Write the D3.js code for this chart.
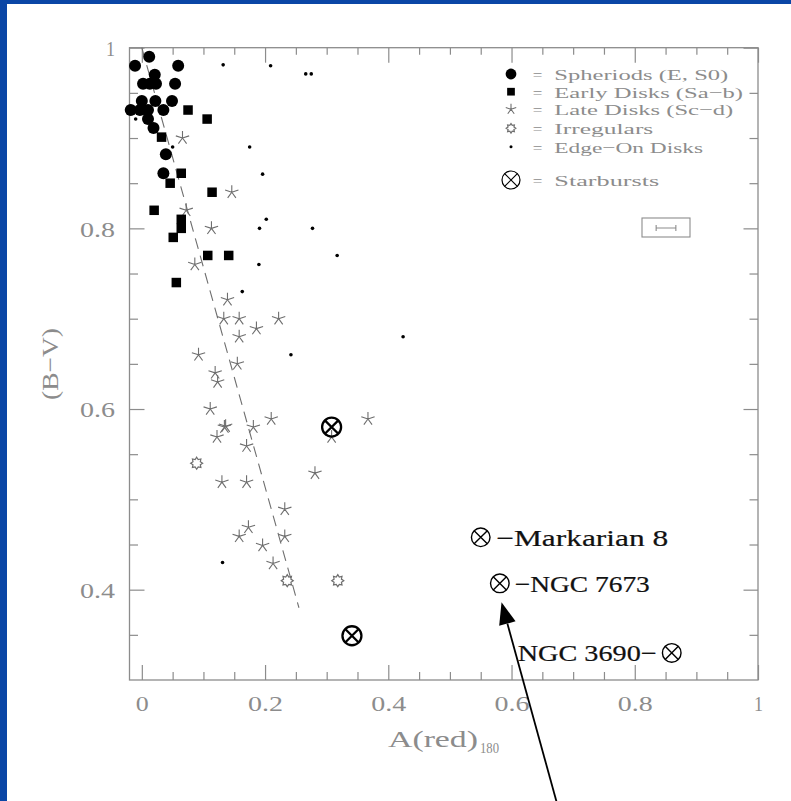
<!DOCTYPE html>
<html>
<head>
<meta charset="utf-8">
<script src="https://cdn.jsdelivr.net/npm/d3@7"></script>
<style>
  html, body { margin: 0; padding: 0; background: #ffffff; }
  svg { display: block; }
  text { font-family: "Liberation Serif", "DejaVu Serif", serif; }
</style>
</head>
<body>
<svg id="chart" width="791" height="801"></svg>
<script>
// ---- data: A(red)_180 (x) against (B-V) colour (y) ----
const spheroids = [
  [0.012, 0.990], [-0.011, 0.980], [0.059, 0.980], [0.021, 0.970],
  [0.002, 0.960], [0.013, 0.960], [0.023, 0.960], [0.054, 0.960],
  [0.000, 0.941], [0.022, 0.941], [0.049, 0.941],
  [-0.018, 0.931], [-0.003, 0.931], [0.010, 0.931], [0.035, 0.931],
  [0.010, 0.921], [0.019, 0.911], [0.039, 0.882], [0.035, 0.861]
];
const earlyDisks = [
  [0.075, 0.931], [0.106, 0.921], [0.032, 0.901], [0.064, 0.861],
  [0.046, 0.850], [0.114, 0.840], [0.020, 0.820], [0.064, 0.810],
  [0.064, 0.800], [0.051, 0.790], [0.107, 0.770], [0.141, 0.770],
  [0.056, 0.740]
];
const lateDisks = [
  [0.066, 0.900], [0.146, 0.840], [0.072, 0.820], [0.113, 0.800],
  [0.086, 0.760], [0.139, 0.721], [0.133, 0.700], [0.158, 0.700],
  [0.222, 0.700], [0.186, 0.689], [0.158, 0.680], [0.092, 0.660],
  [0.155, 0.650], [0.119, 0.640], [0.123, 0.630], [0.111, 0.600],
  [0.210, 0.589], [0.367, 0.589], [0.134, 0.580], [0.136, 0.581],
  [0.181, 0.580], [0.122, 0.569], [0.170, 0.559], [0.308, 0.569],
  [0.281, 0.529], [0.130, 0.519], [0.170, 0.519], [0.232, 0.489],
  [0.173, 0.469], [0.158, 0.459], [0.232, 0.459], [0.196, 0.449],
  [0.213, 0.429]
];
const irregulars = [[0.089, 0.540], [0.236, 0.410], [0.318, 0.410]];
const edgeOnDisks = [
  [0.132, 0.981], [0.209, 0.980], [0.266, 0.971], [0.275, 0.971],
  [-0.010, 0.921], [0.050, 0.890], [0.175, 0.890], [0.196, 0.860],
  [0.202, 0.810], [0.191, 0.800], [0.277, 0.800], [0.317, 0.770],
  [0.190, 0.760], [0.163, 0.730], [0.242, 0.660], [0.424, 0.680],
  [0.131, 0.430]
];
const starbursts = [[0.308, 0.580], [0.341, 0.349]];
const namedStarbursts = ["Markarian 8", "NGC 7673", "NGC 3690"];
const namedStarburstX = [0.550, 0.581, 0.860];
const namedStarburstY = [0.458, 0.407, 0.330];
const fitLine = [[0.0, 1.0], [0.255, 0.38]];
const typicalErrorX = 0.016;

const xMajorTicks = [0, 0.2, 0.4, 0.6, 0.8, 1];
const yMajorTicks = [0.4, 0.6, 0.8, 1];
const xTickLabels = ["0", "0.2", "0.4", "0.6", "0.8", "1"];
const yTickLabels = ["0.4", "0.6", "0.8", "1"];
const legendLabels = [
  "Spheriods (E, S0)", "Early Disks (Sa\u2212b)", "Late Disks (Sc\u2212d)",
  "Irregulars", "Edge\u2212On Disks", "Starbursts"
];

// ---- layout ----
const W = 791, H = 801;
const plot = { left: 129.5, right: 758, top: 47.7, bottom: 680 };
const grey = "#8c8c8c";
const starGrey = "#6e6e6e";

const svg = d3.select("#chart");
svg.append("rect").attr("width", W).attr("height", H).attr("fill", "#ffffff");
// blue slide frame
svg.append("rect").attr("x", 0).attr("y", 0).attr("width", W).attr("height", 4).attr("fill", "#0a46a6");
svg.append("rect").attr("x", 0).attr("y", 0).attr("width", 7).attr("height", H).attr("fill", "#0a46a6");

const x = d3.scaleLinear().domain([-0.02, 1]).range([plot.left, plot.right]);
const y = d3.scaleLinear().domain([0.3, 1]).range([plot.bottom, plot.top]);

const minorX = d3.range(0, 1.0001, 0.05).map(v => +v.toFixed(2)).filter(v => !xMajorTicks.includes(v));
const minorY = d3.range(0.35, 1.0001, 0.05).map(v => +v.toFixed(2)).filter(v => !yMajorTicks.includes(v));

// wide, thin plotter-style numerals
const labelWidth = s => s.length === 1 ? (s === "1" ? 9 : 13) : 35;
function styleAxis(g) {
  g.select(".domain").remove();
  g.selectAll(".tick line").attr("stroke", grey).attr("stroke-width", 1.2);
  g.selectAll(".tick text").attr("fill", grey).attr("font-size", 22)
    .attr("lengthAdjust", "spacingAndGlyphs")
    .attr("textLength", function () { return labelWidth(this.textContent); });
}

// bottom
svg.append("g").attr("transform", `translate(0,${plot.bottom})`)
  .call(d3.axisBottom(x).tickValues(xMajorTicks).tickSize(-15).tickPadding(15)
    .tickFormat((d, i) => xTickLabels[i]))
  .call(styleAxis);
svg.append("g").attr("transform", `translate(0,${plot.bottom})`)
  .call(d3.axisBottom(x).tickValues(minorX).tickSize(-8).tickFormat(""))
  .call(styleAxis);
// top
svg.append("g").attr("transform", `translate(0,${plot.top})`)
  .call(d3.axisTop(x).tickValues(xMajorTicks).tickSize(-15).tickFormat(""))
  .call(styleAxis);
svg.append("g").attr("transform", `translate(0,${plot.top})`)
  .call(d3.axisTop(x).tickValues(minorX).tickSize(-7).tickFormat(""))
  .call(styleAxis);
// left
svg.append("g").attr("transform", `translate(${plot.left},0)`)
  .call(d3.axisLeft(y).tickValues(yMajorTicks).tickSize(-15).tickPadding(14.5)
    .tickFormat((d, i) => yTickLabels[i]))
  .call(styleAxis)
  .call(g => g.selectAll(".tick text").attr("dy", "0.36em"));
svg.append("g").attr("transform", `translate(${plot.left},0)`)
  .call(d3.axisLeft(y).tickValues(minorY).tickSize(-8.5).tickFormat(""))
  .call(styleAxis);
// right
svg.append("g").attr("transform", `translate(${plot.right},0)`)
  .call(d3.axisRight(y).tickValues(yMajorTicks).tickSize(-14.5).tickFormat(""))
  .call(styleAxis);
svg.append("g").attr("transform", `translate(${plot.right},0)`)
  .call(d3.axisRight(y).tickValues(minorY).tickSize(-8.5).tickFormat(""))
  .call(styleAxis);

// frame
svg.append("rect")
  .attr("x", plot.left).attr("y", plot.top)
  .attr("width", plot.right - plot.left).attr("height", plot.bottom - plot.top)
  .attr("fill", "none").attr("stroke", grey).attr("stroke-width", 1.3);

// axis titles
svg.append("text")
  .attr("transform", "translate(58,364) rotate(-90)")
  .attr("text-anchor", "middle").attr("fill", grey).attr("font-size", 24)
  .attr("textLength", 72).attr("lengthAdjust", "spacingAndGlyphs")
  .text("(B\u2212V)");
const xt = svg.append("text").attr("x", 388).attr("y", 747).attr("fill", grey).attr("font-size", 24);
xt.append("tspan").attr("textLength", 90).attr("lengthAdjust", "spacingAndGlyphs").text("A(red)");
xt.append("tspan").attr("x", 480).attr("y", 753).attr("font-size", 14)
  .attr("textLength", 19).attr("lengthAdjust", "spacingAndGlyphs").text("180");

// symbol painters
function starPath(r) {
  let p = "";
  for (let k = 0; k < 5; k++) {
    const a = -Math.PI / 2 + k * 2 * Math.PI / 5;
    p += `M0,0L${(r * Math.cos(a)).toFixed(2)},${(r * Math.sin(a)).toFixed(2)}`;
  }
  return p;
}
function sunPath(ro, ri) {
  const pts = [];
  for (let k = 0; k < 16; k++) {
    const a = -Math.PI / 2 + k * Math.PI / 8;
    const r = k % 2 === 0 ? ro : ri;
    pts.push([r * Math.cos(a), r * Math.sin(a)]);
  }
  return "M" + pts.map(p => p[0].toFixed(2) + "," + p[1].toFixed(2)).join("L") + "Z";
}
function drawCircle(g, r) { g.append("circle").attr("r", r).attr("fill", "#000"); }
function drawSquare(g, s) { g.append("rect").attr("x", -s / 2).attr("y", -s / 2).attr("width", s).attr("height", s).attr("fill", "#000"); }
function drawStar(g, r) { g.append("path").attr("d", starPath(r)).attr("stroke", starGrey).attr("stroke-width", 1.1).attr("fill", "none"); }
function drawSun(g, ro) { g.append("path").attr("d", sunPath(ro, ro * 0.66)).attr("stroke", starGrey).attr("stroke-width", 1.2).attr("fill", "none"); }
function drawDot(g, r) { g.append("circle").attr("r", r).attr("fill", "#000"); }
function drawOtimes(g, r, w) {
  g.append("circle").attr("r", r).attr("fill", "none").attr("stroke", "#000").attr("stroke-width", w);
  const c = r * Math.SQRT1_2;
  g.append("path").attr("d", `M${-c},${-c}L${c},${c}M${-c},${c}L${c},${-c}`)
    .attr("stroke", "#000").attr("stroke-width", w);
}

// fit line
svg.append("path")
  .attr("d", d3.line().x(d => x(d[0])).y(d => y(d[1]))(fitLine))
  .attr("fill", "none").attr("stroke", starGrey).attr("stroke-width", 1.1)
  .attr("stroke-dasharray", "11,7");

function plotSeries(data, painter, size, extra) {
  const g = svg.append("g");
  data.forEach(d => {
    const m = g.append("g").attr("transform", `translate(${x(d[0])},${y(d[1])})`);
    painter(m, size, extra);
  });
}
plotSeries(edgeOnDisks, drawDot, 1.8);
plotSeries(lateDisks, drawStar, 7);
plotSeries(irregulars, drawSun, 6);
plotSeries(earlyDisks, drawSquare, 9.5);
plotSeries(spheroids, drawCircle, 6);
plotSeries(starbursts, drawOtimes, 9.5, 2.3);

// named starbursts with labels
const labelStyle = [
  { anchor: "start", dx: 15.5, len: 172, text: n => "\u2212" + n },
  { anchor: "start", dx: 15, len: 135, text: n => "\u2212" + n },
  { anchor: "end", dx: -15, len: 139, text: n => n + "\u2212" }
];
namedStarbursts.forEach((name, i) => {
  const px = x(namedStarburstX[i]), py = y(namedStarburstY[i]);
  const m = svg.append("g").attr("transform", `translate(${px},${py})`);
  drawOtimes(m, 9.3, 1.4);
  const st = labelStyle[i];
  svg.append("text")
    .attr("x", st.anchor === "start" ? px + st.dx : px + st.dx - st.len)
    .attr("y", py + 8.5)
    .attr("fill", "#111").attr("font-size", 23)
    .attr("textLength", st.len).attr("lengthAdjust", "spacingAndGlyphs")
    .attr("stroke", "#111").attr("stroke-width", 0.2)
    .text(st.text(name));
});

// arrow pointing at NGC 7673
{
  const px = x(namedStarburstX[1]), py = y(namedStarburstY[1]);
  const tip = [px + 1.7, py + 19];
  const dir = [55, 199.3];
  const t = (H + 2 - tip[1]) / dir[1];
  const tail = [tip[0] + dir[0] * t, tip[1] + dir[1] * t];
  const len = Math.hypot(dir[0], dir[1]);
  const ux = dir[0] / len, uy = dir[1] / len;
  const hl = 22, hw = 8.5;
  const base = [tip[0] + ux * hl, tip[1] + uy * hl];
  svg.append("line").attr("x1", base[0]).attr("y1", base[1]).attr("x2", tail[0]).attr("y2", tail[1])
    .attr("stroke", "#000").attr("stroke-width", 1.8);
  svg.append("path")
    .attr("d", `M${tip[0]},${tip[1]}L${base[0] - uy * hw},${base[1] + ux * hw}L${base[0] + uy * hw},${base[1] - ux * hw}Z`)
    .attr("fill", "#000");
}

// legend
const legendRowsY = [74, 91.7, 109.3, 128.3, 146.7, 180];
const legendLen = [174, 188.7, 179, 99, 148.7, 105];
const legendPainters = [
  g => drawCircle(g, 5.4), g => drawSquare(g, 7.7), g => drawStar(g, 5.5),
  g => drawSun(g, 4.8), g => drawDot(g, 1.5), g => drawOtimes(g, 9, 1.2)
];
legendLabels.forEach((lab, i) => {
  const ly = legendRowsY[i];
  const m = svg.append("g").attr("transform", `translate(511,${ly})`);
  legendPainters[i](m);
  svg.append("text").attr("x", 532.7).attr("y", ly + 6).attr("fill", grey).attr("font-size", 15.5)
    .attr("textLength", 9.6).attr("lengthAdjust", "spacingAndGlyphs").text("=");
  svg.append("text").attr("x", 554.3).attr("y", ly + 6).attr("fill", grey).attr("font-size", 15.5)
    .attr("textLength", legendLen[i]).attr("lengthAdjust", "spacingAndGlyphs").text(lab);
});

// typical error bar sample
{
  const cx = 666, cy = 228;
  svg.append("rect").attr("x", 642).attr("y", 218).attr("width", 48).attr("height", 19)
    .attr("fill", "none").attr("stroke", grey).attr("stroke-width", 1.1);
  const half = (x(typicalErrorX) - x(0));
  svg.append("path")
    .attr("d", `M${cx - half},${cy}L${cx + half},${cy}M${cx - half},${cy - 3}L${cx - half},${cy + 3}M${cx + half},${cy - 3}L${cx + half},${cy + 3}`)
    .attr("stroke", grey).attr("stroke-width", 1.1);
}
</script>
</body>
</html>
